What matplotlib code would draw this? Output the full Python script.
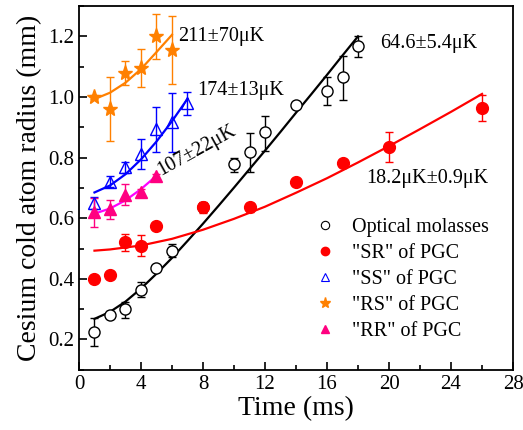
import matplotlib
matplotlib.use("Agg")
import matplotlib.pyplot as plt
from matplotlib.lines import Line2D
from matplotlib.ticker import MultipleLocator

plt.rcParams['font.family'] = ['Liberation Serif', 'DejaVu Serif']
plt.rcParams['mathtext.fontset'] = 'stix'

# optical molasses (open black circles)
om_t = [1, 2, 3, 4, 5, 6, 8, 10, 11, 12, 14, 16, 17, 18]
om_r = [0.226, 0.282, 0.302, 0.364, 0.437, 0.493, 0.636, 0.778, 0.817,
        0.883, 0.973, 1.019, 1.065, 1.168]
om_lo = [0.046, 0.012, 0.032, 0.023, 0.008, 0.020, 0.014, 0.026, 0.065,
         0.060, 0.008, 0.046, 0.075, 0.035]
om_hi = [0.046, 0.012, 0.023, 0.024, 0.008, 0.023, 0.014, 0.022, 0.063,
         0.053, 0.008, 0.046, 0.070, 0.032]

# "SR" of PGC (filled red circles)
sr_t = [1, 2, 3, 4, 5, 8, 11, 14, 17, 20, 26]
sr_r = [0.401, 0.414, 0.520, 0.510, 0.576, 0.636, 0.636, 0.718, 0.781,
        0.834, 0.963]
sr_err = [0.0, 0.0, 0.027, 0.035, 0.0, 0.018, 0.015, 0.0, 0.0, 0.049, 0.043]

# "SS" of PGC (open blue triangles)
ss_t = [1, 2, 3, 4, 5, 6, 7]
ss_r = [0.650, 0.721, 0.768, 0.811, 0.893, 0.917, 0.979]
ss_err = [0.021, 0.017, 0.019, 0.050, 0.075, 0.097, 0.038]

# "RS" of PGC (orange stars)
rs_t = [1, 2, 3, 4, 5, 6]
rs_r = [1.000, 0.960, 1.079, 1.095, 1.200, 1.155]
rs_err = [0.008, 0.106, 0.038, 0.062, 0.075, 0.113]

# "RR" of PGC (filled pink triangles)
rr_t = [1, 2, 3, 4, 5]
rr_r = [0.620, 0.629, 0.678, 0.688, 0.738]
rr_err = [0.048, 0.030, 0.035, 0.010, 0.008]

# fitted curves
fit_om_t = [1, 2, 3, 4, 5, 6, 7, 8, 9, 10, 11, 12, 13, 14, 15, 16, 17, 18]
fit_om_r = [0.268, 0.291, 0.325, 0.368, 0.417, 0.469, 0.525, 0.582, 0.641,
            0.701, 0.762, 0.823, 0.885, 0.948, 1.010, 1.073, 1.137, 1.200]
fit_sr_t = [1, 2, 4, 6, 8, 10, 12, 14, 16, 18, 20, 22, 24, 26]
fit_sr_r = [0.493, 0.497, 0.510, 0.532, 0.562, 0.598, 0.638, 0.684, 0.732,
            0.784, 0.838, 0.894, 0.951, 1.010]
fit_ss_t = [1, 2, 3, 4, 5, 6, 7]
fit_ss_r = [0.685, 0.708, 0.745, 0.794, 0.853, 0.920, 0.994]
fit_rs_t = [1, 2, 3, 4, 5, 6]
fit_rs_r = [0.993, 1.014, 1.047, 1.092, 1.148, 1.205]
fit_rr_t = [1, 2, 3, 4, 5]
fit_rr_r = [0.615, 0.632, 0.659, 0.696, 0.740]

labels = ["Optical molasses", '"SR" of PGC', '"SS" of PGC',
          '"RS" of PGC', '"RR" of PGC']

BLACK = "black"
RED = "#ff0000"
BLUE = "#0000ff"
ORANGE = "#ff8000"
PINK = "#ff0080"
MAGENTA = "#ff00ff"


def main():
    fig = plt.figure(figsize=(5.23, 4.30), dpi=100)
    ax = fig.add_axes([0.151, 0.14, 0.830, 0.846])

    # fit lines
    ax.plot(fit_om_t, fit_om_r, "-", color=BLACK, lw=1.6, zorder=2)
    ax.plot(fit_sr_t, fit_sr_r, "-", color=RED, lw=1.6, zorder=2)
    ax.plot(fit_ss_t, fit_ss_r, "-", color=BLUE, lw=1.6, zorder=2)
    ax.plot(fit_rs_t, fit_rs_r, "-", color=ORANGE, lw=1.6, zorder=2)
    ax.plot(fit_rr_t, fit_rr_r, "-", color=MAGENTA, lw=1.6, zorder=2)

    eb = dict(capsize=3, elinewidth=1.0, capthick=1.0, ls="none", zorder=3)
    ax.errorbar(om_t, om_r, yerr=[om_lo, om_hi], fmt="o", ms=8,
                mfc="white", mec=BLACK, mew=1.0, ecolor=BLACK, **eb)
    ax.errorbar(sr_t, sr_r, yerr=sr_err, fmt="o", ms=8.5,
                mfc=RED, mec=RED, ecolor=RED, **eb)
    ax.errorbar(ss_t, ss_r, yerr=ss_err, fmt="^", ms=9,
                mfc="none", mec=BLUE, mew=1.0, ecolor=BLUE, **eb)
    ax.errorbar(rs_t, rs_r, yerr=rs_err, fmt="*", ms=11,
                mfc=ORANGE, mec=ORANGE, ecolor=ORANGE, **eb)
    ax.errorbar(rr_t, rr_r, yerr=rr_err, fmt="^", ms=9,
                mfc=PINK, mec=PINK, ecolor=PINK, **eb)

    # temperature annotations
    fs = 14.5
    ax.text(6.4, 1.20, "211±70μK", fontsize=fs, va="center", ha="left")
    ax.text(7.6, 1.02, "174±13μK", fontsize=fs, va="center", ha="left")
    ax.text(5.3, 0.742, "107±22μK", fontsize=fs, va="baseline", ha="left",
            rotation=29, rotation_mode="anchor")
    ax.text(19.4, 1.175, "64.6±5.4μK", fontsize=fs, va="center", ha="left")
    ax.text(18.5, 0.73, "18.2μK±0.9μK", fontsize=fs, va="center",
            ha="left")

    handles = [
        Line2D([], [], ls="none", marker="o", ms=6, mfc="white",
               mec=BLACK, mew=0.8),
        Line2D([], [], ls="none", marker="o", ms=6, mfc=RED, mec=RED),
        Line2D([], [], ls="none", marker="^", ms=6, mfc="none",
               mec=BLUE, mew=0.8),
        Line2D([], [], ls="none", marker="*", ms=8, mfc=ORANGE, mec=ORANGE),
        Line2D([], [], ls="none", marker="^", ms=6, mfc=PINK, mec=PINK),
    ]
    ax.legend(handles, labels, loc="upper left",
              bbox_to_anchor=(0.538, 0.418), frameon=False, fontsize=fs,
              handlelength=1.2, handletextpad=0.75, labelspacing=0.34,
              borderaxespad=0, borderpad=0)

    ax.set_xlim(0, 28)
    ax.set_ylim(0.1, 1.3)
    ax.xaxis.set_major_locator(MultipleLocator(4))
    ax.xaxis.set_minor_locator(MultipleLocator(2))
    ax.yaxis.set_major_locator(MultipleLocator(0.2))
    ax.yaxis.set_minor_locator(MultipleLocator(0.1))
    ax.set_yticks([0.2, 0.4, 0.6, 0.8, 1.0, 1.2])
    ax.tick_params(which="both", direction="in", top=False, right=False,
                   labelsize=15, width=1.2)
    ax.tick_params(which="major", length=6)
    ax.tick_params(which="minor", length=3.5)
    for s in ax.spines.values():
        s.set_linewidth(1.3)

    ax.set_xlabel("Time (ms)", fontsize=20, labelpad=2)
    ax.set_ylabel("Cesium cold atom radius (mm)", fontsize=20, labelpad=4)

    fig.savefig("out.png", dpi=100)


if __name__ == '__main__':
    main()
